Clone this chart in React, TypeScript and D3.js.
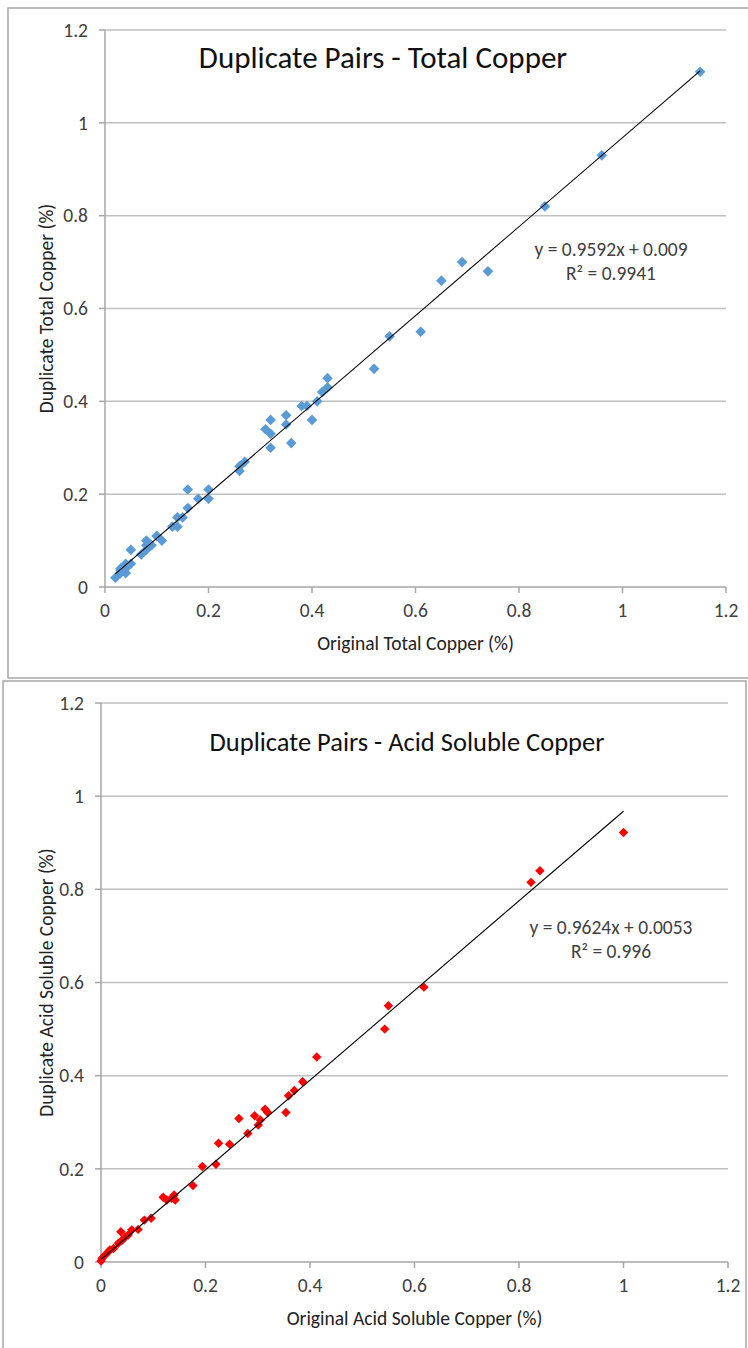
import React from "react";
import * as d3 from "d3";

// ---- Data: Total Copper (original, duplicate) ----
const totalOriginal = [
  1.15, 0.96, 0.85, 0.74, 0.69, 0.65, 0.61, 0.55, 0.52, 0.43, 0.43, 0.42, 0.42, 0.41, 0.40, 0.39, 0.38,
  0.35, 0.35, 0.36, 0.32, 0.31, 0.32, 0.32, 0.27, 0.26, 0.26, 0.16, 0.20, 0.20, 0.18, 0.16, 0.15, 0.14,
  0.13, 0.14, 0.10, 0.11, 0.10, 0.08, 0.08, 0.09, 0.08, 0.07, 0.05, 0.04, 0.04, 0.03, 0.04, 0.03, 0.02,
  0.05, 0.03,
];
const totalDuplicate = [
  1.11, 0.93, 0.82, 0.68, 0.70, 0.66, 0.55, 0.54, 0.47, 0.45, 0.43, 0.42, 0.42, 0.40, 0.36, 0.39, 0.39,
  0.37, 0.35, 0.31, 0.36, 0.34, 0.33, 0.30, 0.27, 0.26, 0.25, 0.21, 0.21, 0.19, 0.19, 0.17, 0.15, 0.15,
  0.13, 0.13, 0.11, 0.10, 0.11, 0.10, 0.09, 0.09, 0.08, 0.07, 0.08, 0.05, 0.04, 0.04, 0.03, 0.03, 0.02,
  0.05, 0.035,
];

// ---- Data: Acid Soluble Copper (original, duplicate) ----
const acidOriginal = [
  1.0, 0.84, 0.823, 0.618, 0.55, 0.543, 0.413, 0.386, 0.37, 0.359, 0.354, 0.314, 0.319, 0.294, 0.305,
  0.301, 0.264, 0.281, 0.246, 0.225, 0.22, 0.194, 0.176, 0.14, 0.142, 0.135, 0.119, 0.126, 0.096, 0.083,
  0.071, 0.059, 0.038, 0.052, 0.046, 0.04, 0.033, 0.024, 0.017, 0.014, 0.008, 0.002, 0.0,
];
const acidDuplicate = [
  0.922, 0.84, 0.815, 0.59, 0.55, 0.5, 0.44, 0.387, 0.368, 0.357, 0.321, 0.328, 0.321, 0.314, 0.305,
  0.294, 0.308, 0.276, 0.253, 0.255, 0.21, 0.205, 0.164, 0.144, 0.133, 0.137, 0.139, 0.133, 0.094, 0.09,
  0.07, 0.069, 0.065, 0.058, 0.053, 0.046, 0.04, 0.029, 0.026, 0.022, 0.015, 0.008, 0.002,
];

const tickValues = [0, 0.2, 0.4, 0.6, 0.8, 1, 1.2];
const tickLabels = ["0", "0.2", "0.4", "0.6", "0.8", "1", "1.2"];

const FONT = "Carlito, 'Liberation Sans', Arial, sans-serif";

type ChartProps = {
  xs: number[];
  ys: number[];
  slope: number;
  intercept: number;
  eq: string;
  r2: string;
  title: string;
  titleSize: number;
  xTitle: string;
  yTitle: string;
  color: string;
  markerR: number;
  px: [number, number];
  py: [number, number];
  titlePos: [number, number];
  eqPos: [number, number];
  yTitleX: number;
  xTitleY: number;
  frame: [number, number, number, number];
};

function Chart(p: ChartProps) {
  const x = d3.scaleLinear().domain([0, 1.2]).range(p.px);
  const y = d3.scaleLinear().domain([0, 1.2]).range(p.py);
  const xmin = d3.min(p.xs) as number;
  const xmax = d3.max(p.xs) as number;
  const line = d3
    .line<number>()
    .x((d) => x(d))
    .y((d) => y(p.slope * d + p.intercept));
  const diamond = (cx: number, cy: number, r: number) =>
    `M${cx},${cy - r}L${cx + r},${cy}L${cx},${cy + r}L${cx - r},${cy}Z`;
  const [fx, fy, fw, fh] = p.frame;
  const yMid = (p.py[0] + p.py[1]) / 2;
  const xMid = (p.px[0] + p.px[1]) / 2;
  return (
    <g>
      <rect x={fx} y={fy} width={fw} height={fh} fill="#fff" stroke="#a6a6a6" strokeWidth={1.5} />
      {tickValues.map((t, i) =>
        i === 0 ? null : (
          <line key={"g" + i} x1={p.px[0]} x2={p.px[1]} y1={y(t)} y2={y(t)} stroke="#c0c0c0" strokeWidth={1.5} />
        )
      )}
      {/* axes */}
      <line x1={p.px[0]} x2={p.px[0]} y1={p.py[0]} y2={p.py[1]} stroke="#a6a6a6" strokeWidth={1.5} />
      <line x1={p.px[0]} x2={p.px[1]} y1={p.py[0]} y2={p.py[0]} stroke="#a6a6a6" strokeWidth={1.5} />
      {tickValues.map((t, i) => (
        <g key={"t" + i}>
          <line x1={p.px[0] - 6} x2={p.px[0]} y1={y(t)} y2={y(t)} stroke="#a6a6a6" strokeWidth={1.5} />
          <line x1={x(t)} x2={x(t)} y1={p.py[0]} y2={p.py[0] + 6} stroke="#a6a6a6" strokeWidth={1.5} />
          <text x={p.px[0] - 17} y={y(t)} dy="0.35em" textAnchor="end" fontSize={19.5} fill="#404040" fontFamily={FONT}>
            {tickLabels[i]}
          </text>
          <text x={x(t)} y={p.py[0] + 30} textAnchor="middle" fontSize={19.5} fill="#404040" fontFamily={FONT}>
            {tickLabels[i]}
          </text>
        </g>
      ))}
      {p.xs.map((v, i) => (
        <path key={"m" + i} d={diamond(x(v), y(p.ys[i]), p.markerR)} fill={p.color} />
      ))}
      <path d={line([xmin, xmax]) || ""} stroke="#000" strokeWidth={1.1} fill="none" />
      <text x={p.titlePos[0]} y={p.titlePos[1]} textAnchor="middle" fontSize={p.titleSize} fill="#111" fontFamily={FONT}>
        {p.title}
      </text>
      <text x={p.eqPos[0]} y={p.eqPos[1]} textAnchor="middle" fontSize={19.5} fill="#404040" fontFamily={FONT}>
        {p.eq}
      </text>
      <text x={p.eqPos[0]} y={p.eqPos[1] + 24} textAnchor="middle" fontSize={19.5} fill="#404040" fontFamily={FONT}>
        {p.r2}
      </text>
      <text x={xMid} y={p.xTitleY} textAnchor="middle" fontSize={19.5} fill="#222" fontFamily={FONT}>
        {p.xTitle}
      </text>
      <text
        transform={`translate(${p.yTitleX},${yMid}) rotate(-90)`}
        textAnchor="middle"
        fontSize={19.5}
        fill="#222"
        fontFamily={FONT}
      >
        {p.yTitle}
      </text>
    </g>
  );
}

export default function App() {
  return (
    <svg
      width={748}
      height={1348}
      style={{ position: "absolute", left: 0, top: 0, background: "#fff" }}
    >
      <Chart
        xs={totalOriginal}
        ys={totalDuplicate}
        slope={0.9592}
        intercept={0.009}
        eq="y = 0.9592x + 0.009"
        r2="R² = 0.9941"
        title="Duplicate Pairs - Total Copper"
        titleSize={31}
        xTitle="Original Total Copper (%)"
        yTitle="Duplicate Total Copper (%)"
        color="#5b9bd5"
        markerR={5.3}
        px={[105, 726]}
        py={[587, 30]}
        titlePos={[383, 68]}
        eqPos={[611, 256]}
        yTitleX={53}
        xTitleY={650}
        frame={[8, 8, 760, 670]}
      />
      <Chart
        xs={acidOriginal}
        ys={acidDuplicate}
        slope={0.9624}
        intercept={0.0053}
        eq="y = 0.9624x + 0.0053"
        r2="R² = 0.996"
        title="Duplicate Pairs - Acid Soluble Copper"
        titleSize={26.5}
        xTitle="Original Acid Soluble Copper (%)"
        yTitle="Duplicate Acid Soluble Copper (%)"
        color="#ff0000"
        markerR={4.7}
        px={[101, 728]}
        py={[1262, 703]}
        titlePos={[407, 751]}
        eqPos={[611, 934]}
        yTitleX={53}
        xTitleY={1325}
        frame={[3, 681, 743, 680]}
      />
    </svg>
  );
}
